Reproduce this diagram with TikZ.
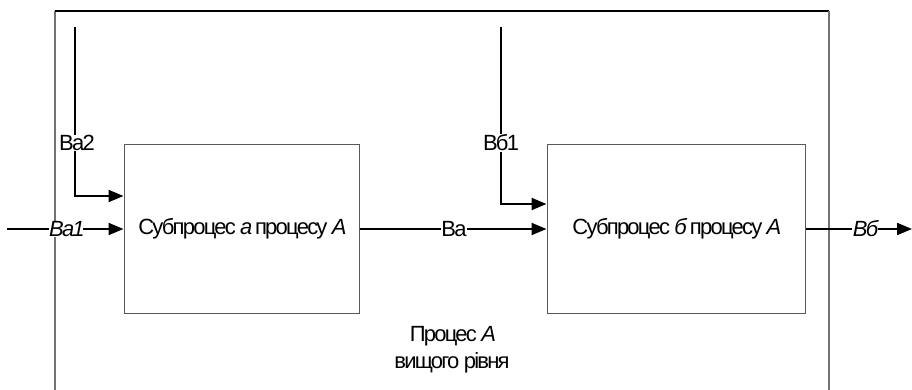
\documentclass[tikz,border=0pt]{standalone}
\usepackage{fontspec}
\setmainfont{Liberation Sans}[LetterSpace=-8]
\usetikzlibrary{positioning,arrows.meta}

\begin{document}
\begin{tikzpicture}[x=1pt, y=-1pt,
    flow/.style={-{Triangle[length=15pt,width=12pt]}, line width=2pt},
    subbox/.style={draw=black!65, line width=1pt, minimum height=168pt, inner sep=0pt},
    lbl/.style={fill=white, inner sep=0.5pt},
    every node/.style={font=\fontsize{22}{27}\selectfont}]

    \useasboundingbox (0,0) rectangle (912,390);

    % frame of the upper process
    \draw[black!55, line width=1.2pt] (55,390) -- (55,11);
    \draw[line width=1.2pt] (55,11) -- (829,11);
    \draw[black!55, line width=1.2pt] (829,11) -- (829,390);

    % subprocesses
    \node[subbox, minimum width=235pt] (suba) at (241.5,229) {Субпроцес \textit{а} процесу \textit{А}};
    \node[subbox, minimum width=258pt] (subb) at (676,229) {Субпроцес \textit{б} процесу \textit{А}};

    \node[align=center] (proc) at (452,350) {Процес \textit{А}\\вищого рівня};

    % free ends
    \coordinate (a2top) at (75,27);
    \coordinate (b1top) at (501,27);
    \coordinate (a1in) at (7,229);
    \coordinate (bout) at (912,229);

    % flows
    \draw[flow] (a2top) |- ([yshift=33pt]suba.west);
    \draw[flow] (a1in) -- (suba.west);
    \draw[flow] (suba.east) -- (subb.west);
    \draw[flow] (b1top) |- ([yshift=25pt]subb.west);
    \draw[flow] (subb.east) -- (bout);

    % labels on the flows
    \node[lbl] (a2lbl) at (77,143) {Ва2};
    \node[lbl] (a1lbl) at (66,229) {\textit{Ва1}};
    \node[lbl] (albl) at (454,229) {Ва};
    \node[lbl] (b1lbl) at (501,143) {Вб1};
    \node[lbl] (blbl) at (865,229) {\textit{Вб}};

\end{tikzpicture}
\end{document}
